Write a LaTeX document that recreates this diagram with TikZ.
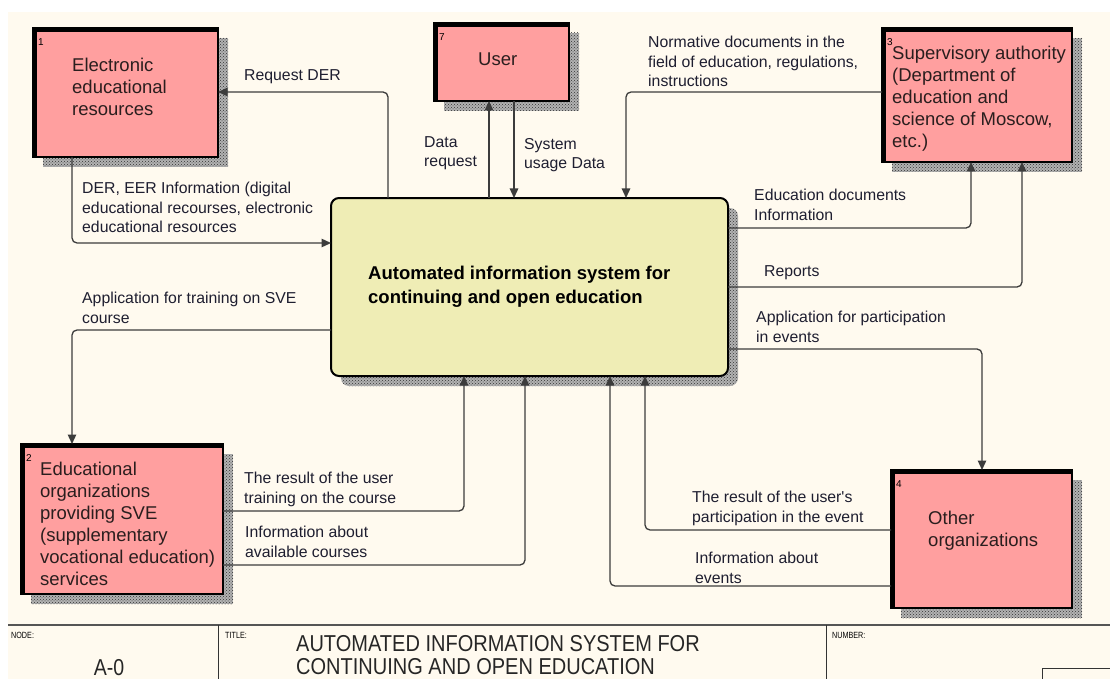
\documentclass[tikz,border=0pt]{standalone}
\usepackage{fontspec}
\setmainfont{Liberation Sans}
\usepackage{graphicx}
\usetikzlibrary{arrows.meta,fit,patterns,calc}
\definecolor{cream}{HTML}{FFFAEF}
\definecolor{boxpink}{HTML}{FF9F9F}
\definecolor{sysyellow}{HTML}{EFEDB5}
\definecolor{linegray}{HTML}{3C3C3C}
\definecolor{lbltext}{HTML}{1E1E30}
\definecolor{boxtext}{HTML}{2A1E1E}
\definecolor{frameline}{HTML}{555555}
\pgfdeclarelayer{bg}
\pgfdeclarelayer{shadow}
\pgfsetlayers{bg,shadow,main}
\tikzset{
 ebox/.style={rectangle, draw=black, fill=boxpink, line width=2.5pt, inner sep=0pt, outer sep=0pt},
 sysbox/.style={rectangle, rounded corners=8pt, draw=black, fill=sysyellow, line width=2pt, inner sep=0pt, outer sep=0pt},
 shadowfill/.style={fill=black!30},
 shadowdots/.style={pattern=crosshatch dots, pattern color=black!80},
 flow/.style={draw=linegray, line width=1.3pt, rounded corners=5pt, -{Triangle[length=9.5pt,width=8.5pt]}},
 lbl/.style={anchor=north west, inner sep=0pt, align=left, text=lbltext, font=\fontsize{15.8}{19.5}\selectfont},
 btxt/.style={anchor=north west, inner sep=0pt, align=left, text=boxtext, font=\fontsize{18.5}{22}\selectfont},
 numlbl/.style={anchor=center, inner sep=0pt, font=\fontsize{10}{10}\selectfont},
 smalltag/.style={anchor=north west, inner sep=0pt, font=\fontsize{9}{9}\selectfont},
}
\newcommand\ebx[6]{%
  \node[ebox, fit={(#2,#3) (#4,#5)}] (#1) {};
  \begin{pgfonlayer}{shadow}
    \fill[shadowfill] ([shift={(10,10)}]#1.north west) rectangle ([shift={(10,10)}]#1.south east);
    \fill[shadowdots] ([shift={(10,10)}]#1.north west) rectangle ([shift={(10,10)}]#1.south east);
  \end{pgfonlayer}
  \fill ([shift={(-1.25,-1.25)}]#1.north west) rectangle ([shift={(3.75,1.25)}]#1.south west);
  \fill ([shift={(-1.25,-1.25)}]#1.north west) rectangle ([shift={(1.25,3.75)}]#1.north east);
  \node[numlbl] (#1n) at ([shift={(8,14)}]#1.north west) {#6};
}
\begin{document}
\begin{tikzpicture}[x=1pt,y=-1pt]
\useasboundingbox (0,0) rectangle (1110,679);
\begin{pgfonlayer}{bg}
  \fill[white] (0,0) rectangle (1110,679);
  \fill[cream] (8,12) rectangle (1110,679);
\end{pgfonlayer}

% external entities
\ebx{e1}{33}{28}{218}{157}{1}
\ebx{user}{434}{23}{569}{101}{7}
\ebx{sup}{882}{28}{1072}{162}{3}
\ebx{sve}{21}{444}{223}{594}{2}
\ebx{oth}{891}{470}{1072}{608}{4}

% central process
\node[sysbox, fit={(331,198) (728,376)}] (sys) {};
\begin{pgfonlayer}{shadow}
  \fill[shadowfill, rounded corners=8pt] ([shift={(10,10)}]sys.north west) rectangle ([shift={(10,10)}]sys.south east);
  \fill[shadowdots, rounded corners=8pt] ([shift={(10,10)}]sys.north west) rectangle ([shift={(10,10)}]sys.south east);
\end{pgfonlayer}

% box texts
\node[btxt] (e1t) at (72,58) {Electronic\\educational\\resources};
\node[btxt] (usert) at (478,53) {User};
\node[btxt] (supt) at (892,46) {Supervisory authority\\(Department of\\education and\\science of Moscow,\\etc.)};
\node[btxt] (svet) at (40,462) {Educational\\organizations\\providing SVE\\(supplementary\\vocational education)\\services};
\node[btxt] (otht) at (928,511) {Other\\organizations};
\node[anchor=north west, inner sep=0pt, align=left, text=black, font=\fontsize{18.5}{24}\selectfont\bfseries] (syst) at (368,266) {Automated information system for\\continuing and open education};

% connector corner points
\coordinate (k1) at (388,92);
\coordinate (k2) at (72,243);
\coordinate (k3) at (489,0);
\coordinate (k4) at (514,0);
\coordinate (k5) at (626,92);
\coordinate (k6) at (971,228);
\coordinate (k7) at (1022,287);
\coordinate (k8) at (982,349);
\coordinate (k9) at (72,330);
\coordinate (k10) at (464,511);
\coordinate (k11) at (525,565);
\coordinate (k12) at (645,530);
\coordinate (k13) at (610,586);

% connectors
\draw[flow] (sys.north -| k1) |- (e1.east |- k1);
\draw[flow] (e1.south -| k2) |- (sys.west |- k2);
\draw[flow] (sys.north -| k3) -- (user.south -| k3);
\draw[flow] (user.south -| k4) -- (sys.north -| k4);
\draw[flow] (sup.west |- k5) -| (sys.north -| k5);
\draw[flow] (sys.east |- k6) -| (sup.south -| k6);
\draw[flow] (sys.east |- k7) -| (sup.south -| k7);
\draw[flow] (sys.east |- k8) -| (oth.north -| k8);
\draw[flow] (sys.west |- k9) -| (sve.north -| k9);
\draw[flow] (sve.east |- k10) -| (sys.south -| k10);
\draw[flow] (sve.east |- k11) -| (sys.south -| k11);
\draw[flow] (oth.west |- k12) -| (sys.south -| k12);
\draw[flow] (oth.west |- k13) -| (sys.south -| k13);

% connector labels
\node[lbl] (l1) at (244,69) {Request DER};
\node[lbl] (l2) at (82,182) {DER, EER Information (digital\\educational recourses, electronic\\educational resources};
\node[lbl] (l3) at (424,136) {Data\\request};
\node[lbl] (l4) at (524,138) {System\\usage Data};
\node[lbl] (l5) at (648,36) {Normative documents in the\\field of education, regulations,\\instructions};
\node[lbl] (l6) at (754,189) {Education documents\\Information};
\node[lbl] (l7) at (764,265) {Reports};
\node[lbl] (l8) at (756,311) {Application for participation\\in events};
\node[lbl] (l9) at (82,292) {Application for training on SVE\\course};
\node[lbl] (l10) at (244,472) {The result of the user\\training on the course};
\node[lbl] (l11) at (245,526) {Information about\\available courses};
\node[lbl] (l12) at (692,491) {The result of the user\textquotesingle s\\participation in the event};
\node[lbl] (l13) at (695,552) {Information about\\events};

% title block
\draw[frameline, line width=2pt] (8,625) -- (1110,625);
\draw[black!80, line width=1pt] (218,625) -- (218,679);
\draw[black!80, line width=1pt] (826,625) -- (826,679);
\draw[black!80, line width=1pt] (1110,668) -- (1042,668) -- (1042,679);
\node[smalltag] (tnode) at (11,632) {\scalebox{0.8}[1]{NODE:}};
\node[smalltag] (ttitle) at (225,632) {\scalebox{0.8}[1]{TITLE:}};
\node[smalltag] (tnum) at (832,632) {\scalebox{0.8}[1]{NUMBER:}};
\node[anchor=center, inner sep=0pt, font=\fontsize{23}{23}\selectfont, text=black!85] (nodeid) at (109,668) {\scalebox{0.85}[1]{A-0}};
\node[anchor=north west, inner sep=0pt, font=\fontsize{23}{23}\selectfont, text=black!85] (ttl) at (296,635) {\scalebox{0.87}[1]{\begin{tabular}{@{}l@{}}AUTOMATED INFORMATION SYSTEM FOR\\CONTINUING AND OPEN EDUCATION\end{tabular}}};
\end{tikzpicture}
\end{document}
